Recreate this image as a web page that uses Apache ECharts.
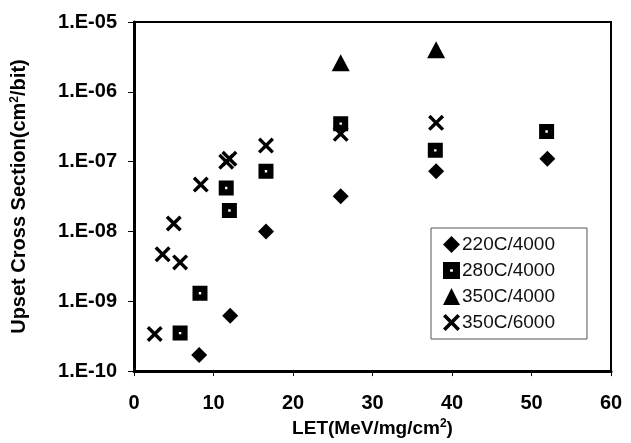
<!DOCTYPE html>
<html>
	<head>
		<meta charset="UTF-8">
		<title></title>
		<style>
			html, body { margin: 0; padding: 0; background: #fff; }
		</style>
	</head>
	<body>
		<div id='chart' style="width:631px;height:443px;"></div>
	</body>
	<script type="text/javascript" src="https://cdn.jsdelivr.net/npm/echarts@6/dist/echarts.min.js"></script>
	<script>
		// LET (MeV/mg/cm2) and cross section (cm2/bit)
		var seriesNames = ['220C/4000', '280C/4000', '350C/4000', '350C/6000'];

		var let220 = [8.2, 12.1, 16.6, 26, 38, 52];
		var cs220 = [1.7e-10, 6.2e-10, 1.0e-8, 3.2e-8, 7.3e-8, 1.1e-7];

		var let280 = [5.8, 8.3, 12.0, 11.6, 16.6, 26, 37.9, 51.9];
		var cs280 = [3.5e-10, 1.3e-9, 2.0e-8, 4.2e-8, 7.3e-8, 3.5e-7, 1.45e-7, 2.7e-7];

		var let350a = [26, 38];
		var cs350a = [2.6e-6, 4.0e-6];

		var let350b = [2.6, 3.6, 5.8, 5.0, 8.4, 11.6, 12.0, 16.6, 26, 38];
		var cs350b = [3.4e-10, 4.7e-9, 3.6e-9, 1.3e-8, 4.7e-8, 1.0e-7, 1.1e-7, 1.7e-7, 2.5e-7, 3.6e-7];

		var xTicks = [0, 10, 20, 30, 40, 50, 60];

		function pairs(xs, ys){
			var out = [];
			for (var i = 0; i < xs.length; i++) out.push([xs[i], ys[i]]);
			return out;
		}

		// marker shapes
		var squareHole = 'path://M0,0 L10,0 L10,10 L0,10 Z M4.2,4.2 L4.2,5.8 L5.8,5.8 L5.8,4.2 Z';
		var crossMark = 'path://M0,3 L3,0 L10,7 L17,0 L20,3 L13,10 L20,17 L17,20 L10,13 L3,20 L0,17 L7,10 Z';

		var axisFont = 'Liberation Sans, Arial, sans-serif';

		var chart = echarts.init(document.getElementById('chart'));
		var option = {
			animation: false,
			backgroundColor: '#fff',
			grid: {
				left: 134, right: 20, top: 22, bottom: 67,
				show: true, borderColor: '#000', borderWidth: 2
			},
			legend: {
				orient: 'vertical',
				left: 431, top: 228,
				data: seriesNames,
				backgroundColor: '#fff',
				borderColor: '#555', borderWidth: 1,
				padding: [7, 32, 7, 12],
				itemGap: 7,
				itemWidth: 17, itemHeight: 17,
				textStyle: { fontFamily: axisFont, fontSize: 19, color: '#111', padding: [0, 0, 0, -3] }
			},
			xAxis: {
				type: 'value',
				min: 0, max: 60, interval: 10,
				name: 'LET(MeV/mg/cm{sup|2})',
				nameLocation: 'middle',
				nameGap: 44,
				nameTextStyle: {
					fontFamily: axisFont, fontWeight: 'bold', fontSize: 19, color: '#000',
					rich: { sup: { fontFamily: axisFont, fontWeight: 'bold', fontSize: 12, verticalAlign: 'top', padding: [0, 0, 9, 0] } }
				},
				axisLine: { show: true, lineStyle: { color: '#000', width: 3 } },
				axisTick: { show: true, length: 5, lineStyle: { color: '#000', width: 1 } },
				splitLine: { show: false },
				axisLabel: {
					margin: 22,
					fontFamily: axisFont, fontWeight: 'bold', fontSize: 20, color: '#000',
					formatter: function(v){ return xTicks.indexOf(v) >= 0 ? String(v) : ''; }
				}
			},
			yAxis: {
				type: 'log', logBase: 10,
				min: 1e-10, max: 1e-5,
				name: 'Upset Cross Section(cm{sup|2}/bit)',
				nameLocation: 'middle',
				nameGap: 104,
				nameTextStyle: {
					fontFamily: axisFont, fontWeight: 'bold', fontSize: 20, color: '#000',
					rich: { sup: { fontFamily: axisFont, fontWeight: 'bold', fontSize: 12, verticalAlign: 'top', padding: [0, 0, 9, 0] } }
				},
				axisLine: { show: true, lineStyle: { color: '#000', width: 3 } },
				axisTick: { show: true, length: 6, lineStyle: { color: '#000', width: 1 } },
				minorTick: { show: false },
				splitLine: { show: false },
				axisLabel: {
					margin: 17,
					fontFamily: axisFont, fontWeight: 'bold', fontSize: 20, color: '#000',
					formatter: function(v){
						var e = Math.round(Math.log10(v));
						var n = -e;
						return '1.E-' + (n < 10 ? '0' + n : n);
					}
				}
			},
			series: [
				{
					name: seriesNames[0], type: 'scatter',
					symbol: 'diamond', symbolSize: [16, 16],
					itemStyle: { color: '#000', opacity: 1 },
					data: pairs(let220, cs220)
				},
				{
					name: seriesNames[1], type: 'scatter',
					symbol: squareHole, symbolSize: 15,
					itemStyle: { color: '#000', opacity: 1 },
					data: pairs(let280, cs280)
				},
				{
					name: seriesNames[2], type: 'scatter',
					symbol: 'triangle', symbolSize: [18, 17],
					itemStyle: { color: '#000', opacity: 1 },
					data: pairs(let350a, cs350a)
				},
				{
					name: seriesNames[3], type: 'scatter',
					symbol: crossMark, symbolSize: 16,
					itemStyle: { color: '#000', opacity: 1 },
					data: pairs(let350b, cs350b)
				}
			]
		};
		chart.setOption(option);
	</script>
</html>
